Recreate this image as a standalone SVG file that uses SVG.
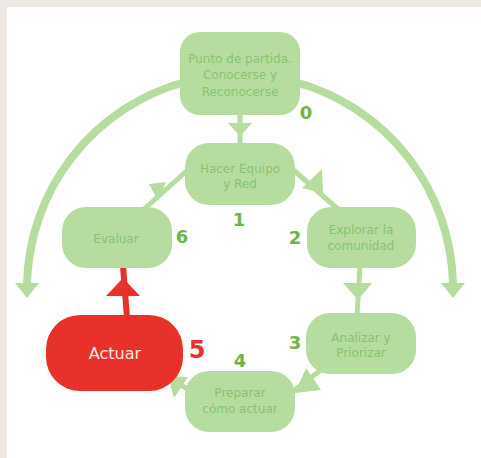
<svg xmlns="http://www.w3.org/2000/svg" width="481" height="458" viewBox="0 0 481 458">
<style>
.node{fill:#B7DCA0}
.lbl{font-family:"DejaVu Sans",Verdana,sans-serif;font-size:12px;fill:#86C56E;text-anchor:middle}
.num{font-family:"DejaVu Sans",Verdana,sans-serif;font-weight:bold;font-size:18px;fill:#70B24C;text-anchor:middle}
.con{stroke:#B7DCA0;fill:none}
.head{fill:#B7DCA0}
</style>
<rect x="0" y="0" width="481" height="458" fill="#EEEAE3"/>
<rect x="7" y="7" width="474" height="451" fill="#FFFFFF"/>
<g id="connectors">
  <path class="con" stroke-width="8" d="M185,82 A214,214 0 0,0 27,285"/>
  <polygon class="head" points="15,283 39,283 27,298"/>
  <path class="con" stroke-width="8" d="M295,82 A214,214 0 0,1 453,285"/>
  <polygon class="head" points="441,283 465,283 453,298"/>
  <line class="con" stroke-width="5" x1="240" y1="110" x2="240" y2="146"/>
  <polygon class="head" points="228,123 252,123 240,136"/>
  <line class="con" stroke-width="5" x1="290" y1="167" x2="339" y2="210"/>
  <polygon class="head" points="322,169 302,188 323,193"/>
  <line class="con" stroke-width="5" x1="143" y1="210" x2="190" y2="168"/>
  <polygon class="head" points="149,184 158,201 166,182"/>
  <line class="con" stroke-width="5" x1="360" y1="265" x2="357" y2="316"/>
  <polygon class="head" points="343,283 372,283 358,300"/>
  <line class="con" stroke-width="5" x1="325" y1="367" x2="292" y2="392"/>
  <polygon class="head" points="306,368 321,390 295,393"/>
  <line class="con" stroke-width="5" x1="192" y1="392" x2="172" y2="379"/>
  <polygon class="head" points="168,376 188,377 174,398"/>
  <line stroke="#E8312B" stroke-width="6" x1="127" y1="318" x2="123" y2="266"/>
  <polygon fill="#E8312B" points="106,296 140,296 123,278"/>
</g>
<g id="node0">
  <rect class="node" x="180" y="32" width="120" height="83" rx="20"/>
  <text class="lbl" x="240" y="63">Punto de partida.</text>
  <text class="lbl" x="240" y="79">Conocerse y</text>
  <text class="lbl" x="240" y="96">Reconocerse</text>
  <text class="num" x="306" y="119">0</text>
</g>
<g id="node1">
  <rect class="node" x="185" y="143" width="110" height="62" rx="24"/>
  <text class="lbl" x="240" y="173">Hacer Equipo</text>
  <text class="lbl" x="240" y="188">y Red</text>
  <text class="num" x="239" y="226">1</text>
</g>
<g id="node2">
  <rect class="node" x="307" y="207" width="109" height="61" rx="24"/>
  <text class="lbl" x="361" y="234">Explorar la</text>
  <text class="lbl" x="361" y="250">comunidad</text>
  <text class="num" x="295" y="244">2</text>
</g>
<g id="node3">
  <rect class="node" x="306" y="313" width="110" height="61" rx="24"/>
  <text class="lbl" x="361" y="342">Analizar y</text>
  <text class="lbl" x="361" y="357">Priorizar</text>
  <text class="num" x="295" y="349">3</text>
</g>
<g id="node4">
  <rect class="node" x="185" y="371" width="110" height="61" rx="24"/>
  <text class="lbl" x="240" y="397">Preparar</text>
  <text class="lbl" x="240" y="413">cómo actuar</text>
  <text class="num" x="240" y="367">4</text>
</g>
<g id="node5">
  <rect x="46" y="315" width="137" height="76" rx="34" fill="#E8312B"/>
  <text x="115" y="359" font-family="DejaVu Sans,Verdana,sans-serif" font-size="16" fill="#FBE6E6" text-anchor="middle">Actuar</text>
  <text x="197" y="358" font-family="DejaVu Sans,Verdana,sans-serif" font-weight="bold" font-size="24" fill="#E8312B" text-anchor="middle">5</text>
</g>
<g id="node6">
  <rect class="node" x="62" y="207" width="110" height="61" rx="24"/>
  <text class="lbl" x="116" y="243">Evaluar</text>
  <text class="num" x="182" y="243">6</text>
</g>
</svg>
